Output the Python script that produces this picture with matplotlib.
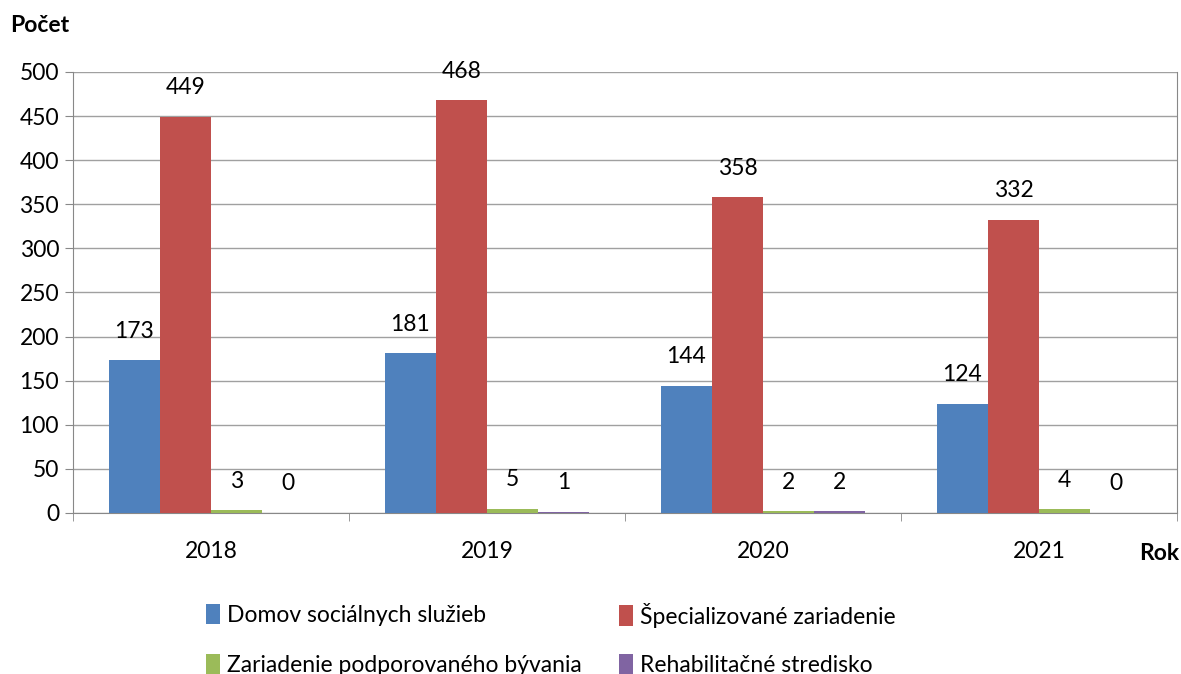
import matplotlib.pyplot as plt
import numpy as np

years = ["2018", "2019", "2020", "2021"]
series_names = ["Domov sociálnych služieb", "Špecializované zariadenie",
                "Zariadenie podporovaného bývania", "Rehabilitačné stredisko"]
domov = [173, 181, 144, 124]
specializovane = [449, 468, 358, 332]
podporovane = [3, 5, 2, 4]
rehabilitacne = [0, 1, 2, 0]
colors = ["#4F81BD", "#C0504D", "#9BBB59", "#8064A2"]

plt.rcParams["font.family"] = ["Lato", "DejaVu Sans"]
FS = 16.5

fig = plt.figure(figsize=(11.81, 6.74), dpi=100)
ax = fig.add_axes([0.0618, 0.2389, 0.9348, 0.6543])

x = np.arange(len(years))
width = 0.185
all_series = [domov, specializovane, podporovane, rehabilitacne]
handles = []
for i, (vals, name, c) in enumerate(zip(all_series, series_names, colors)):
    pos = x + (i - 1.5) * width
    b = ax.bar(pos, vals, width, color=c, label=name, zorder=3)
    handles.append(b)
    for p, v in zip(pos, vals):
        ax.annotate(str(v), (p, v), xytext=(0, 21), textcoords="offset points",
                    ha="center", va="center", fontsize=FS)

ax.set_xlim(-0.5, 3.5)
ax.set_ylim(0, 500)
ax.set_yticks(range(0, 501, 50))
ax.yaxis.grid(True, color="#A0A0A0", linewidth=1, zorder=0)
ax.tick_params(axis="y", length=6, color="#888888", labelsize=FS, pad=4)
ax.set_xticks(x)
ax.set_xticklabels(years)
ax.tick_params(axis="x", length=0, labelsize=FS, pad=20)
# oddelovace kategorii
ax.set_xticks(np.arange(-0.5, 4.0, 1.0), minor=True)
ax.tick_params(axis="x", which="minor", length=6, color="#888888")
for s in ["left", "bottom", "right"]:
    ax.spines[s].set_color("#888888")
ax.spines["top"].set_visible(False)

fig.text(10 / 1181, 1 - 25 / 674, "Počet", fontsize=FS, fontweight="bold",
         ha="left", va="center")
fig.text(1179 / 1181, 1 - 553 / 674, "Rok", fontsize=FS, fontweight="bold",
         ha="right", va="center")

# legenda - kazda polozka zvlast
leg_pos = [(206, 615), (619, 615), (206, 665), (619, 665)]
for h, name, (px, py) in zip(handles, series_names, leg_pos):
    fig.legend([h], [name], loc="center left",
               bbox_to_anchor=(px / 1181, 1 - py / 674),
               frameon=False, fontsize=FS, handlelength=0.62, handleheight=1.0,
               handletextpad=0.3, borderaxespad=0, borderpad=0)

fig.savefig("out.png", dpi=100)
